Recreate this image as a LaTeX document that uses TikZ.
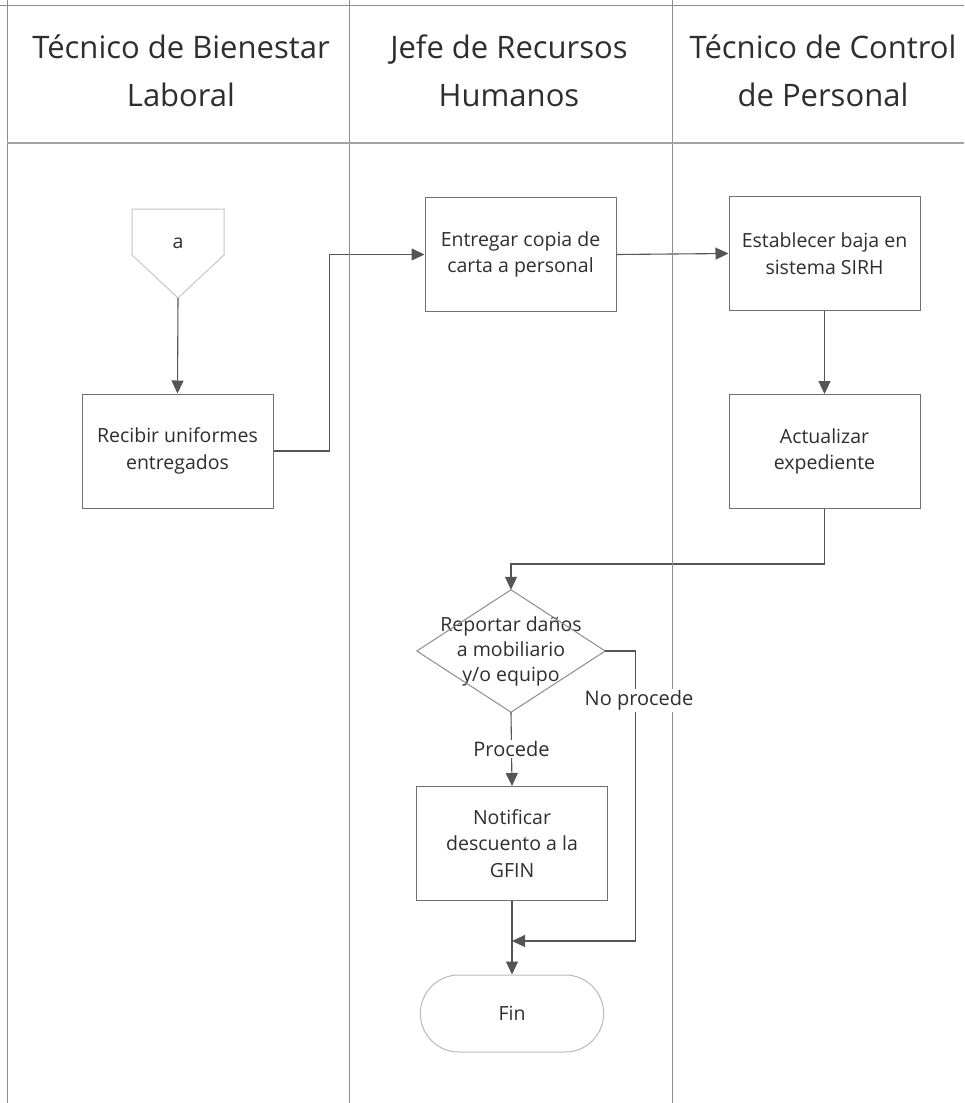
\documentclass[tikz,border=0pt]{standalone}
\usepackage{fontspec}
\setmainfont{Open Sans}
\usetikzlibrary{arrows.meta,shapes.misc}

\definecolor{linec}{HTML}{555555}
\definecolor{boxc}{HTML}{707070}
\definecolor{lanec}{HTML}{8C8C8C}
\definecolor{txt}{HTML}{2E2E2E}

\begin{document}
\begin{tikzpicture}[x=1pt,y=-1pt,
  every node/.style={text=txt},
  proc/.style={draw=boxc, line width=1pt, minimum width=191pt, minimum height=114pt,
    align=center, font=\fontsize{19.5}{26.5}\selectfont, inner sep=0pt},
  flow/.style={draw=linec, line width=1.1pt, -{Triangle[length=13pt,width=12pt]}},
  lbl/.style={fill=white, font=\fontsize{20}{22}\selectfont, inner sep=1.5pt},
  head/.style={font=\fontsize{31}{48}\selectfont, align=center},
  lane/.style={draw=lanec, line width=1pt}
]
\useasboundingbox (0,0) rectangle (964,1103);
\fill[white] (0,0) rectangle (964,1103);

% lane headers
\node[head] (h1) at (181,71) {Técnico de Bienestar\\Laboral};
\node[head] (h2) at (509,71) {Jefe de Recursos\\Humanos};
\node[head] (h3) at (823,71) {Técnico de Control\\de Personal};

% process steps
\node[proc] (recv)  at (177.5,451) {Recibir uniformes\\entregados};
\node[proc] (entr)  at (520.5,254.5) {Entregar copia de\\carta a personal};
\node[proc] (estab) at (824.5,253.5) {Establecer baja en\\sistema SIRH};
\node[proc] (actu)  at (824.5,451.5) {Actualizar\\expediente};
\node[proc] (notif) at (512,843.5) {Notificar\\descuento a la\\GFIN};

% off-page connector "a"
\node[font=\fontsize{19.5}{22}\selectfont] (a) at (178,243) {a};
\draw[draw=gray!45, line width=1pt] (132,209) -- (224,209) -- (224,255) -- (178,298) -- (132,255) -- cycle;
\coordinate (atip) at (178,298);

% decision
\node[minimum width=188pt, minimum height=122pt, inner sep=0pt, align=center,
      font=\fontsize{19.5}{25}\selectfont] (dec) at (511,651) {Reportar daños\\a mobiliario\\y/o equipo};
\draw[draw=boxc!80, line width=1pt] (dec.north) -- (dec.east) -- (dec.south) -- (dec.west) -- cycle;

% terminal
\node[rounded rectangle, draw=gray!55, line width=1pt, minimum width=190pt, minimum height=77pt,
      font=\fontsize{19.5}{22}\selectfont] (fin) at (512,1013.5) {Fin};

\coordinate (join) at (512,941);

% connectors
\draw[flow] (atip) -- (recv.north);
\draw[flow] (recv.east) -- ++(56,0) |- (entr.west);
\draw[flow] (entr.east) -- (estab.west);
\draw[flow] (estab.south) -- (actu.north);
\draw[flow] (actu.south) -- ++(0,55) -| (dec.north);
\draw[flow] (dec.south) -- node[lbl] (pr) {Procede} (notif.north);
\draw[flow] (notif.south) -- (fin.north);
\draw[flow] (dec.east) -- ++(30,0) |- (join);

% swimlane frame
\draw[lane] (0,5) -- (964,5);
\draw[lane] (7,0) -- (7,1103);
\draw[lane] (349,0) -- (349,1103);
\draw[lane] (672,0) -- (672,1103);
\draw[lane, line width=1.6pt, draw=lanec!80] (7,143) -- (964,143);

% branch label on top of the lines it crosses
\node[lbl] (np) at (639,700) {No procede};
\end{tikzpicture}
\end{document}
